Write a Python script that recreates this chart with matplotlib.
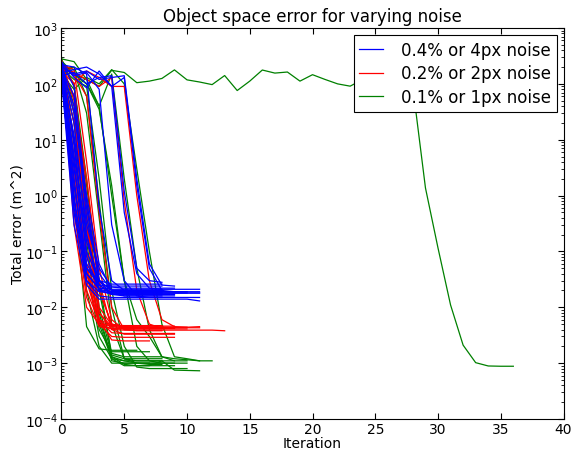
import matplotlib
matplotlib.use('Agg')
from matplotlib import pyplot as plt

# error per iteration for each run, one list per run
runs_4px = [
    [200, 2.0, 0.04, 0.022, 0.021, 0.021, 0.021, 0.021, 0.021],
    [180, 0.5, 0.03, 0.019, 0.018, 0.018, 0.018, 0.018, 0.018],
    [230, 8.0, 0.08, 0.02, 0.019, 0.019, 0.019, 0.019, 0.019, 0.019, 0.019],
    [150, 1.0, 0.03, 0.016, 0.015, 0.015, 0.015, 0.015, 0.015],
    [210, 20, 0.2, 0.025, 0.018, 0.018, 0.018, 0.018, 0.018, 0.018, 0.018, 0.018],
    [170, 4.0, 0.05, 0.025, 0.024, 0.024, 0.024, 0.024, 0.024],
    [240, 90, 0.8, 0.03, 0.017, 0.016, 0.016, 0.016, 0.016, 0.016],
    [130, 0.3, 0.025, 0.014, 0.014, 0.014, 0.014, 0.014, 0.014, 0.014, 0.014, 0.013],
    [190, 60, 0.4, 0.04, 0.02, 0.018, 0.018, 0.018, 0.018, 0.018, 0.018, 0.018],
    [220, 200, 150, 0.6, 0.03, 0.02, 0.019, 0.019, 0.019],
    [160, 180, 200, 150, 90, 130, 1.5, 0.05, 0.02, 0.019, 0.019, 0.019],
    [200, 150, 170, 120, 130, 140, 2.0, 0.06, 0.025, 0.024],
    [140, 160, 100, 130, 140, 1.2, 0.05, 0.03, 0.028],
    [250, 130, 85, 170, 90, 0.5, 0.04, 0.022, 0.021, 0.021, 0.021, 0.021],
    [190, 10, 0.1, 0.03, 0.017, 0.017, 0.017, 0.017, 0.017, 0.017],
    [120, 0.8, 0.05, 0.03, 0.026, 0.026, 0.026, 0.026, 0.026],
    [210, 140, 160, 80, 0.3, 0.03, 0.016, 0.015, 0.015, 0.015, 0.015, 0.015],
    [175, 40, 0.6, 0.03, 0.02, 0.019, 0.019, 0.019, 0.019, 0.019, 0.019],
    [220, 3.0, 0.15, 0.03, 0.02, 0.02, 0.02, 0.02, 0.02],
    [160, 12, 0.3, 0.05, 0.023, 0.022, 0.022, 0.022, 0.022, 0.022],
    [200, 1.5, 0.06, 0.025, 0.018, 0.018, 0.018, 0.018, 0.018, 0.018, 0.018],
    [240, 30, 1.0, 0.06, 0.02, 0.016, 0.016, 0.016, 0.016],
    [180, 5.0, 0.2, 0.02, 0.017, 0.017, 0.017, 0.017, 0.017, 0.017],
    [150, 0.6, 0.04, 0.021, 0.019, 0.019, 0.019, 0.019, 0.019],
]

runs_2px = [
    [250, 3.0, 0.05, 0.006, 0.0048, 0.0047, 0.0047, 0.0047, 0.0047],
    [200, 0.8, 0.02, 0.0055, 0.0045, 0.0044, 0.0044, 0.0044, 0.0044, 0.0044, 0.0044, 0.0045],
    [180, 20, 0.2, 0.008, 0.004, 0.0039, 0.0039, 0.0039, 0.0039, 0.0039, 0.0039, 0.0039, 0.0039, 0.0038],
    [220, 100, 1.0, 0.02, 0.005, 0.0045, 0.0044, 0.0044, 0.0044],
    [160, 0.5, 0.015, 0.0045, 0.0042, 0.0042, 0.0042, 0.0042, 0.0042, 0.0042],
    [230, 8.0, 0.1, 0.006, 0.0035, 0.0034, 0.0034, 0.0034, 0.0034, 0.0034],
    [190, 150, 60, 0.5, 0.01, 0.004, 0.0038, 0.0038, 0.0038],
    [140, 2.0, 0.04, 0.005, 0.003, 0.0029, 0.0029, 0.0029, 0.0029, 0.0029],
    [260, 30, 0.3, 0.008, 0.0045, 0.0043, 0.0043, 0.0043, 0.0043, 0.0043, 0.0043, 0.0043],
    [210, 160, 120, 90, 130, 0.8, 0.02, 0.005, 0.0042, 0.0042],
    [170, 100, 170, 130, 90, 90, 1.0, 0.03, 0.006, 0.0045, 0.0044],
    [200, 0.3, 0.01, 0.005, 0.0047, 0.0047, 0.0047, 0.0047],
    [150, 5.0, 0.06, 0.006, 0.0026, 0.0025, 0.0025, 0.0025],
    [240, 50, 0.5, 0.01, 0.0048, 0.0046, 0.0046, 0.0046, 0.0046, 0.0046],
    [185, 1.5, 0.03, 0.005, 0.0041, 0.0041, 0.0041, 0.0041, 0.0041, 0.0041, 0.0041],
    [220, 180, 4.0, 0.05, 0.006, 0.004, 0.0039, 0.0039, 0.0039],
    [270, 10, 0.3, 0.02, 0.005, 0.0044, 0.0044, 0.0044, 0.0044],
    [200, 60, 2.0, 0.03, 0.004, 0.0033, 0.0033, 0.0033, 0.0033, 0.0033],
]

runs_1px = [
    [300, 1.0, 0.0045, 0.0018, 0.0017, 0.0017, 0.0017],
    [250, 5.0, 0.05, 0.003, 0.0012, 0.0011, 0.0011, 0.0011, 0.0011],
    [200, 30, 0.3, 0.008, 0.0011, 0.001, 0.001, 0.001, 0.001, 0.001, 0.001],
    [220, 100, 2.0, 0.02, 0.0015, 0.0013, 0.0013, 0.0013, 0.0013],
    [180, 200, 60, 0.8, 0.01, 0.0012, 0.0011, 0.0011, 0.0011, 0.0011],
    [260, 150, 120, 40, 1.0, 0.03, 0.006, 0.003, 0.0013, 0.0012, 0.00115, 0.0011, 0.0011],
    [150, 80, 130, 100, 180, 100, 3.0, 0.1, 0.005, 0.0013, 0.0012, 0.0011],
    [240, 10, 0.1, 0.005, 0.0012, 0.0009, 0.0009, 0.0009, 0.0009, 0.0009],
    [210, 60, 0.8, 0.01, 0.0014, 0.0012, 0.0012, 0.0012, 0.0012],
    [190, 120, 90, 2.0, 0.02, 0.002, 0.00085, 0.0008, 0.0008, 0.0008, 0.0008],
    [230, 2.0, 0.02, 0.002, 0.001, 0.001, 0.001, 0.001],
    [270, 40, 0.5, 0.006, 0.0013, 0.00095, 0.0009, 0.0009, 0.0011, 0.00075, 0.00074, 0.00073],
    [200, 150, 100, 40, 150, 2.0, 0.05, 0.004, 0.0013, 0.0011, 0.0011],
    [170, 20, 0.15, 0.004, 0.0016, 0.0016, 0.0016, 0.0016],
    [280, 90, 1.5, 0.03, 0.0013, 0.0011, 0.001, 0.001, 0.001, 0.001],
    [210, 180, 30, 0.4, 0.005, 0.0012, 0.001, 0.00095, 0.00095],
    [200, 150, 100, 35, 1.5, 0.03, 0.002, 0.0011, 0.001],
    # the one run that takes long to converge
    [280, 250, 120, 90, 175, 160, 105, 112, 125, 178, 118, 108, 97, 141, 76, 112, 177, 156,
     163, 112, 146, 120, 100, 91, 120, 130, 110, 100, 85, 1.37, 0.115, 0.011, 0.0021,
     0.00102, 0.00089, 0.00088, 0.00088],
]

labels = ['0.4% or 4px noise', '0.2% or 2px noise', '0.1% or 1px noise']
colors = [(0, 0, 1), (1, 0, 0), (0, 0.5, 0)]

plt.rcParams['font.family'] = 'DejaVu Sans'
plt.rcParams['mathtext.default'] = 'regular'
fig = plt.figure(figsize=(5.71, 4.52), dpi=100)
ax = fig.add_axes([0.1077, 0.0708, 0.8792, 0.8650])

handles = [None, None, None]
for i in [2, 1, 0]:
    for run in [runs_4px, runs_2px, runs_1px][i]:
        h, = ax.plot(range(len(run)), run, color=colors[i], lw=0.9)
    handles[i] = h

ax.set_yscale('log')
ax.set_xlim(0, 40)
ax.set_ylim(1e-4, 1e3)
ax.tick_params(which='both', direction='in', top=True, right=True, labelsize=10, pad=2.5)
ax.tick_params(which='major', length=4)
ax.tick_params(which='minor', length=2)
ax.set_title('Object space error for varying noise', fontsize=12, pad=5)
ax.set_xlabel('Iteration', fontsize=10, labelpad=0)
ax.set_ylabel('Total error (m^2)', fontsize=10, labelpad=0)

leg = ax.legend(handles, labels, loc='upper right', fontsize=12, fancybox=False,
                framealpha=1, edgecolor='black', handlelength=1.4, handletextpad=1.1,
                borderpad=0.35, labelspacing=0.35, borderaxespad=0.4)
leg.get_frame().set_linewidth(0.8)

plt.savefig('out.png', dpi=100)
